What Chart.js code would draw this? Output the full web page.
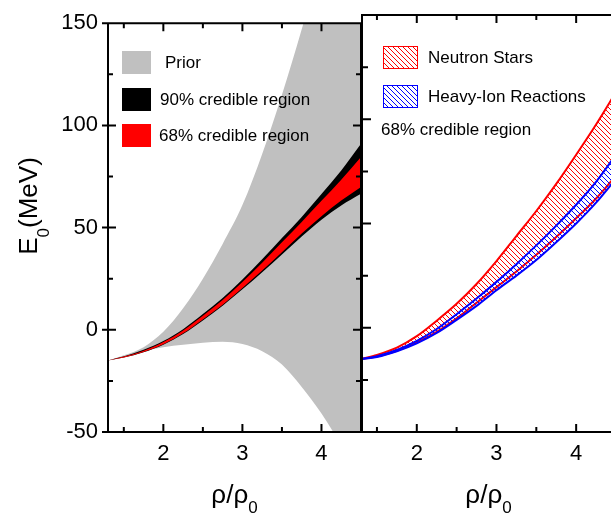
<!DOCTYPE html>
<html>
<head>
<meta charset="utf-8">
<script src="https://cdn.jsdelivr.net/npm/chart.js@4.4.1/dist/chart.umd.min.js"></script>
<style>
html,body{margin:0;padding:0;background:#fff;overflow:hidden;}
#wrap{position:relative;width:611px;height:515px;overflow:hidden;background:#fff;}
#left{position:absolute;left:0;top:0;}
#right{position:absolute;left:361px;top:0;}
</style>
</head>
<body>
<div id="wrap">
  <canvas id="left" width="362" height="515"></canvas>
  <canvas id="right" width="256" height="515"></canvas>
</div>
<script>
// density grid (rho/rho0) and band edges, E0 in MeV
var rho     = [1.3, 1.5, 1.75, 2.0, 2.25, 2.5, 2.75, 3.0, 3.25, 3.5, 3.75, 4.0, 4.25, 4.5];
var priorHi = [-15, -12.5, -8.5, -1, 10.5, 25, 42, 61, 86, 115, 147, 182, 220, 260];
var priorLo = [-15, -12.8, -10.3, -8.5, -7.3, -6.3, -5.9, -7, -10.5, -17, -28, -41, -57, -78];
var ci90Hi  = [-15, -13.0, -9.8, -5.5, 0.3, 7.7, 15.6, 24.6, 34.5, 44.9, 55.2, 66.4, 77.9, 91.0];
var ci90Lo  = [-15, -13.6, -11.0, -7.3, -2.1, 4.6, 11.8, 19.8, 28.2, 36.9, 45.7, 53.9, 60.8, 66.5];
var ci68Hi  = [-15, -13.1, -10.2, -6.0, -0.3, 6.9, 14.6, 23.4, 32.8, 42.8, 52.8, 63.1, 73.4, 84.6];
var ci68Lo  = [-15, -13.5, -10.9, -7.1, -1.7, 5.1, 12.3, 20.5, 29.0, 38.0, 47.1, 55.6, 63.2, 69.9];
var nsHi    = [-15, -13, -9.5, -4, 3.4, 11.5, 21, 32, 44, 56, 69, 83, 97.5, 113];
var nsLo    = [-15, -13.8, -11, -7, -2, 4.5, 12, 19.5, 27, 35, 43.5, 52.5, 62, 73];
var hicHi   = [-15, -13.6, -10.6, -6.3, -0.6, 6.5, 14, 22, 30.5, 39.5, 49, 59, 70, 83];
var hicLo   = [-15, -14, -11.3, -7.5, -2.5, 3.8, 10.5, 18, 25, 32.5, 41, 50, 60, 71.5];

var xTicks = [2, 3, 4];
var xMinor = [1.5, 2.5, 3.5];
var yTicks = [-50, 0, 50, 100, 150];
var yMinor = [-25, 25, 75, 125];

var leftLegend = ['Prior', '90% credible region', '68% credible region'];
var rightLegend = ['Neutron Stars', 'Heavy-Ion Reactions', '68% credible region'];

var FONT = "'Liberation Sans', Arial, sans-serif";
var GRAY = '#c0c0c0';

function pts(ys){
    return rho.map(function(x, i){ return {x: x, y: ys[i]}; });
}

// "\" hatch tile, drawn pixel by pixel so the colour stays pure
function hatch(color){
    var c = document.createElement('canvas');
    c.width = 5; c.height = 5;
    var g = c.getContext('2d');
    g.fillStyle = color;
    for (var i = 0; i < 5; i++) g.fillRect(i, i, 1, 1);
    return g.createPattern(c, 'repeat');
}
var redHatch = hatch('#ff0000');
var blueHatch = hatch('#0000ff');

function band(data, fill, bg, line, width, order){
    return {
        data: pts(data),
        fill: fill,
        backgroundColor: bg,
        borderColor: line || 'rgba(0,0,0,0)',
        borderWidth: width || 1,
        pointRadius: 0,
        cubicInterpolationMode: 'monotone',
        order: order
    };
}

function axes(showY){
    return {
        x: {
            type: 'linear', min: 1.3, max: 4.5,
            grid: {display: false, drawTicks: false},
            border: {display: false},
            ticks: {font: {family: FONT, size: 22}, color: '#000', padding: 9, maxRotation: 0},
            afterBuildTicks: function(s){ s.ticks = xTicks.map(function(v){ return {value: v}; }); },
            afterFit: function(s){ s.height = 83; }
        },
        y: {
            type: 'linear', min: -50, max: 150, display: showY,
            grid: {display: false, drawTicks: false},
            border: {display: false},
            ticks: {font: {family: FONT, size: 22}, color: '#000', padding: 10},
            afterBuildTicks: function(s){ s.ticks = yTicks.map(function(v){ return {value: v}; }); },
            afterFit: function(s){ s.width = showY ? 108 : 0; }
        }
    };
}

// frame with inward ticks, like the origin-style axes
var frame = {
    id: 'frame',
    afterDraw: function(chart, args, opts){
        var ctx = chart.ctx, a = chart.chartArea;
        var xs = chart.scales.x, ys = chart.scales.y;
        var left = opts.side === 'left';
        var lx = a.left + (left ? 0 : 1);
        ctx.save();
        ctx.strokeStyle = '#000';
        ctx.lineWidth = 2;
        ctx.beginPath();
        ctx.moveTo(lx, a.top); ctx.lineTo(lx, a.bottom);
        ctx.moveTo(a.left, a.top); ctx.lineTo(a.right, a.top);
        ctx.moveTo(a.left, a.bottom); ctx.lineTo(a.right, a.bottom);
        if (left){ ctx.moveTo(a.right, a.top); ctx.lineTo(a.right, a.bottom); }
        xTicks.forEach(function(v){
            var x = xs.getPixelForValue(v);
            ctx.moveTo(x, a.bottom); ctx.lineTo(x, a.bottom - 8);
            ctx.moveTo(x, a.top); ctx.lineTo(x, a.top + 8);
        });
        xMinor.forEach(function(v){
            var x = xs.getPixelForValue(v);
            ctx.moveTo(x, a.bottom); ctx.lineTo(x, a.bottom - 5);
            ctx.moveTo(x, a.top); ctx.lineTo(x, a.top + 5);
        });
        yTicks.forEach(function(v){
            var y = ys.getPixelForValue(v);
            if (left){
                ctx.moveTo(a.left - 6, y); ctx.lineTo(a.left + 8, y);
                ctx.moveTo(a.right, y); ctx.lineTo(a.right - 8, y);
            } else {
                ctx.moveTo(lx, y); ctx.lineTo(lx + 9, y);
            }
        });
        yMinor.forEach(function(v){
            var y = ys.getPixelForValue(v);
            if (left){
                ctx.moveTo(a.left, y); ctx.lineTo(a.left + 5, y);
                ctx.moveTo(a.right, y); ctx.lineTo(a.right - 5, y);
            } else {
                ctx.moveTo(lx, y); ctx.lineTo(lx + 6, y);
            }
        });
        ctx.stroke();
        ctx.restore();
    }
};

function xTitle(ctx, cx){
    ctx.font = '26px ' + FONT;
    var w1 = ctx.measureText('\u03c1/\u03c1').width;
    ctx.font = '17px ' + FONT;
    var w = w1 + ctx.measureText('0').width;
    ctx.textAlign = 'left';
    ctx.textBaseline = 'alphabetic';
    ctx.font = '26px ' + FONT;
    ctx.fillText('\u03c1/\u03c1', cx - w / 2, 503);
    ctx.font = '17px ' + FONT;
    ctx.fillText('0', cx - w / 2 + w1, 513);
}

var deco = {
    id: 'deco',
    afterDraw: function(chart, args, opts){
        var ctx = chart.ctx, a = chart.chartArea;
        ctx.save();
        ctx.fillStyle = '#000';
        xTitle(ctx, (a.left + a.right) / 2);
        ctx.textBaseline = 'middle';
        ctx.textAlign = 'left';
        if (opts.side === 'left'){
            // y title, rotated
            ctx.save();
            ctx.translate(37, 206);
            ctx.rotate(-Math.PI / 2);
            ctx.font = '26px ' + FONT;
            var w = ctx.measureText('E(MeV)').width;
            ctx.font = '17px ' + FONT;
            w += ctx.measureText('0').width;
            ctx.textBaseline = 'alphabetic';
            ctx.font = '26px ' + FONT;
            var x0 = -w / 2;
            ctx.fillText('E', x0, 0);
            x0 += ctx.measureText('E').width;
            ctx.font = '17px ' + FONT;
            ctx.fillText('0', x0, 12);
            x0 += ctx.measureText('0').width;
            ctx.font = '26px ' + FONT;
            ctx.fillText('(MeV)', x0, 0);
            ctx.restore();

            var boxes = [GRAY, '#000', '#ff0000'];
            var tops = [51, 88, 124];
            var tx = [165, 160, 159];
            ctx.font = '17px ' + FONT;
            for (var i = 0; i < 3; i++){
                ctx.fillStyle = boxes[i];
                ctx.fillRect(122, tops[i], 29, 23);
                ctx.fillStyle = '#000';
                ctx.fillText(leftLegend[i], tx[i], tops[i] + 12);
            }
        } else {
            var off = 361;
            var pats = [redHatch, blueHatch];
            var cols = ['#ff0000', '#0000ff'];
            var rt = [46, 85];
            ctx.font = '17px ' + FONT;
            for (var j = 0; j < 2; j++){
                ctx.fillStyle = pats[j];
                ctx.fillRect(383 - off, rt[j], 35, 23);
                ctx.strokeStyle = cols[j];
                ctx.lineWidth = 1;
                ctx.strokeRect(383.5 - off, rt[j] + 0.5, 34, 22);
                ctx.fillStyle = '#000';
                ctx.fillText(rightLegend[j], 428 - off, rt[j] + 12);
            }
            ctx.fillText(rightLegend[2], 381 - off, 130);
        }
        ctx.restore();
    }
};

new Chart(document.getElementById('left'), {
    type: 'line',
    data: {
        datasets: [
            band(priorHi, '+1', GRAY, null, 1, 6),
            band(priorLo, false, GRAY, null, 1, 5),
            band(ci90Hi, '+1', '#000000', null, 1, 4),
            band(ci90Lo, false, '#000000', null, 1, 3),
            band(ci68Hi, '+1', '#ff0000', null, 1, 2),
            band(ci68Lo, false, '#ff0000', null, 1, 1)
        ]
    },
    options: {
        responsive: false,
        animation: false,
        layout: {padding: {top: 15, right: 1, left: 0, bottom: 0}},
        scales: axes(true),
        plugins: {legend: {display: false}, tooltip: {enabled: false},
                  frame: {side: 'left'}, deco: {side: 'left'}}
    },
    plugins: [frame, deco]
});

new Chart(document.getElementById('right'), {
    type: 'line',
    data: {
        datasets: [
            band(nsHi, '+1', redHatch, '#ff0000', 2, 4),
            band(nsLo, false, redHatch, '#ff0000', 2, 3),
            band(hicHi, '+1', blueHatch, '#0000ff', 2, 2),
            band(hicLo, false, blueHatch, '#0000ff', 2, 1)
        ]
    },
    options: {
        responsive: false,
        animation: false,
        layout: {padding: {top: 15, right: 1, left: 0, bottom: 0}},
        scales: axes(false),
        plugins: {legend: {display: false}, tooltip: {enabled: false},
                  frame: {side: 'right'}, deco: {side: 'right'}}
    },
    plugins: [frame, deco]
});
</script>
</body>
</html>
